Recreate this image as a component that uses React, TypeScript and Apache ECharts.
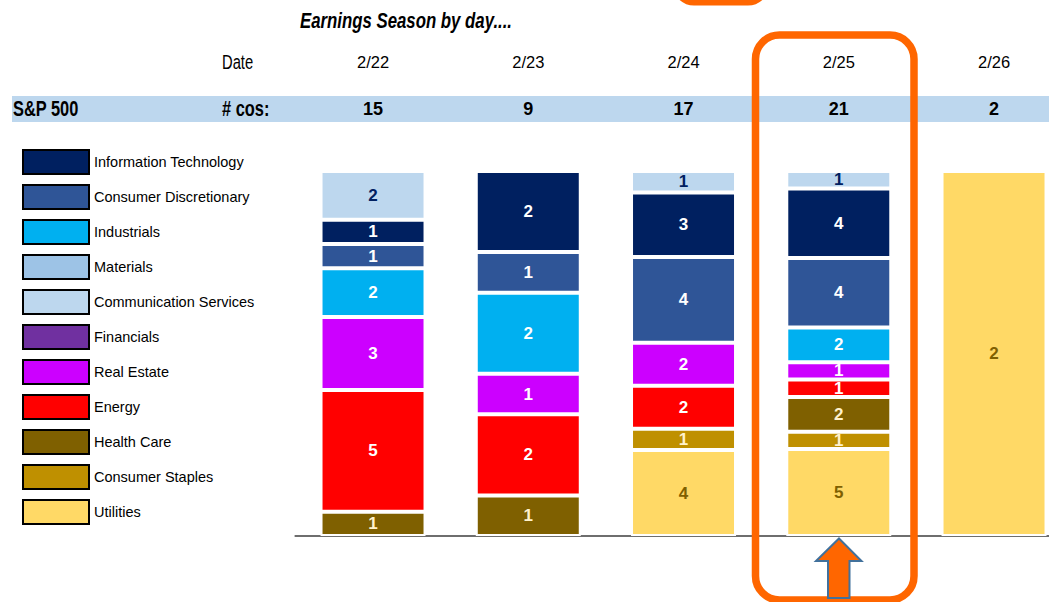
import React, { useEffect, useRef } from "react";
import * as echarts from "echarts";

const FONT = '"Liberation Sans", Arial, sans-serif';

const dates = ["2/22", "2/23", "2/24", "2/25", "2/26"];
const totals = [15, 9, 17, 21, 2];

// legend order (top to bottom)
const legendOrder = [
  "Information Technology",
  "Consumer Discretionary",
  "Industrials",
  "Materials",
  "Communication Services",
  "Financials",
  "Real Estate",
  "Energy",
  "Health Care",
  "Consumer Staples",
  "Utilities",
];

// per-sector counts by day
const utilities = [null, null, 4, 5, 2];
const consumerStaples = [null, null, 1, 1, null];
const healthCare = [1, 1, null, 2, null];
const energy = [5, 2, 2, 1, null];
const realEstate = [3, 1, 2, 1, null];
const financials = [null, null, null, null, null];
const materials = [null, null, null, null, null];
const industrials = [2, 2, null, 2, null];
const consumerDiscretionary = [1, 1, 4, 4, null];
const informationTechnology = [1, 2, 3, 4, null];
const communicationServices = [2, null, 1, 1, null];

// stack order bottom -> top
const stackSeries = [
  { name: "Utilities", values: utilities, color: "#FFD966", label: "#7F6000" },
  { name: "Consumer Staples", values: consumerStaples, color: "#BF9000", label: "#FFF2CC" },
  { name: "Health Care", values: healthCare, color: "#7F6000", label: "#FFF2CC" },
  { name: "Energy", values: energy, color: "#FF0000", label: "#FFFFFF" },
  { name: "Real Estate", values: realEstate, color: "#CC00FF", label: "#FFFFFF" },
  { name: "Financials", values: financials, color: "#7030A0", label: "#FFFFFF" },
  { name: "Materials", values: materials, color: "#9DC3E6", label: "#002060" },
  { name: "Industrials", values: industrials, color: "#00B0F0", label: "#FFFFFF" },
  { name: "Consumer Discretionary", values: consumerDiscretionary, color: "#2F5597", label: "#FFFFFF" },
  { name: "Information Technology", values: informationTechnology, color: "#002060", label: "#FFFFFF" },
  { name: "Communication Services", values: communicationServices, color: "#BDD7EE", label: "#002060" },
];

const ORANGE = "#FF6600";
const CHART_W = 1080;

export default function App() {
  const ref = useRef<HTMLDivElement>(null);

  useEffect(() => {
    if (!ref.current) return;
    const chart = echarts.init(ref.current, null, { renderer: "svg" });

    const series = stackSeries.map((s) => ({
      name: s.name,
      type: "bar",
      stack: "total",
      xAxisIndex: 0,
      barWidth: 105,
      itemStyle: { color: s.color, borderColor: "#FFFFFF", borderWidth: 2 },
      label: {
        show: true,
        position: "inside",
        color: s.label,
        fontFamily: FONT,
        fontWeight: "bold",
        fontSize: 17,
        lineHeight: 17,
        formatter: (p: any) => (p.data && p.data.count != null ? String(p.data.count) : ""),
      },
      data: s.values.map((v, i) =>
        v == null ? { value: "-" } : { value: (v / totals[i]) * 100, count: v }
      ),
    }));

    const headText = (text: string, x: number, y: number, font: string, sx: number) => ({
      type: "text",
      x,
      y,
      scaleX: sx,
      scaleY: 1.08,
      style: { text, fill: "#000000", font, verticalAlign: "middle" },
    });

    const option: any = {
      animation: false,
      backgroundColor: "#FFFFFF",
      grid: { left: 295.4, right: CHART_W - 1071.65, top: 171, bottom: 66, containLabel: false },
      xAxis: [
        {
          type: "category",
          data: dates,
          position: "bottom",
          axisLine: { show: true, lineStyle: { color: "#6E6E6E", width: 2 } },
          axisTick: { show: false },
          axisLabel: { show: false },
          splitLine: { show: false },
        },
        {
          type: "category",
          data: dates,
          position: "top",
          axisLine: { show: false },
          axisTick: { show: false },
          axisLabel: {
            show: true,
            margin: 109,
            verticalAlign: "middle",
            color: "#000000",
            fontFamily: FONT,
            fontSize: 16.5,
          },
        },
        {
          type: "category",
          data: dates,
          position: "top",
          axisLine: { show: false },
          axisTick: { show: false },
          axisLabel: {
            show: true,
            margin: 62,
            verticalAlign: "middle",
            color: "#000000",
            fontFamily: FONT,
            fontSize: 18,
            fontWeight: "bold",
            formatter: (_v: string, i: number) => String(totals[i]),
          },
        },
      ],
      yAxis: { type: "value", min: 0, max: 100, show: false },
      legend: {
        data: legendOrder,
        orient: "vertical",
        left: 22,
        top: 149,
        padding: 0,
        itemWidth: 66,
        itemHeight: 24,
        itemGap: 9,
        icon: "rect",
        selectedMode: false,
        itemStyle: { borderColor: "#000000", borderWidth: 2 },
        textStyle: { color: "#000000", fontFamily: FONT, fontSize: 14.5 },
      },
      graphic: [
        {
          type: "rect",
          z: -10,
          shape: { x: 12, y: 96, width: 1037, height: 26 },
          style: { fill: "#BDD7EE" },
        },
        headText("Earnings Season by day....", 300, 20, `italic bold 21px ${FONT}`, 0.8),
        headText("Date", 222, 62, `18px ${FONT}`, 0.82),
        headText("S&P 500", 13, 109, `bold 20px ${FONT}`, 0.82),
        headText("# cos:", 222, 109, `bold 20px ${FONT}`, 0.82),
        {
          type: "rect",
          z: 100,
          shape: { x: 755.5, y: 35, width: 158.5, height: 565, r: 24 },
          style: { fill: "none", stroke: ORANGE, lineWidth: 7.5 },
        },
        {
          type: "rect",
          z: 100,
          shape: { x: 676, y: -40, width: 90, height: 42, r: 18 },
          style: { fill: "none", stroke: ORANGE, lineWidth: 7 },
        },
        {
          type: "polygon",
          z: 100,
          shape: {
            points: [
              [839, 538.5],
              [861.5, 561],
              [849.5, 561],
              [849.5, 598],
              [828, 598],
              [828, 561],
              [816, 561],
            ],
          },
          style: { fill: ORANGE, stroke: "#41719C", lineWidth: 2 },
        },
      ],
      series,
    };

    chart.setOption(option);
    return () => chart.dispose();
  }, []);

  return (
    <div
      style={{
        position: "fixed",
        left: 0,
        top: 0,
        width: 1049,
        height: 602,
        overflow: "hidden",
        background: "#fff",
      }}
    >
      <div ref={ref} style={{ width: CHART_W, height: 602 }} />
    </div>
  );
}
